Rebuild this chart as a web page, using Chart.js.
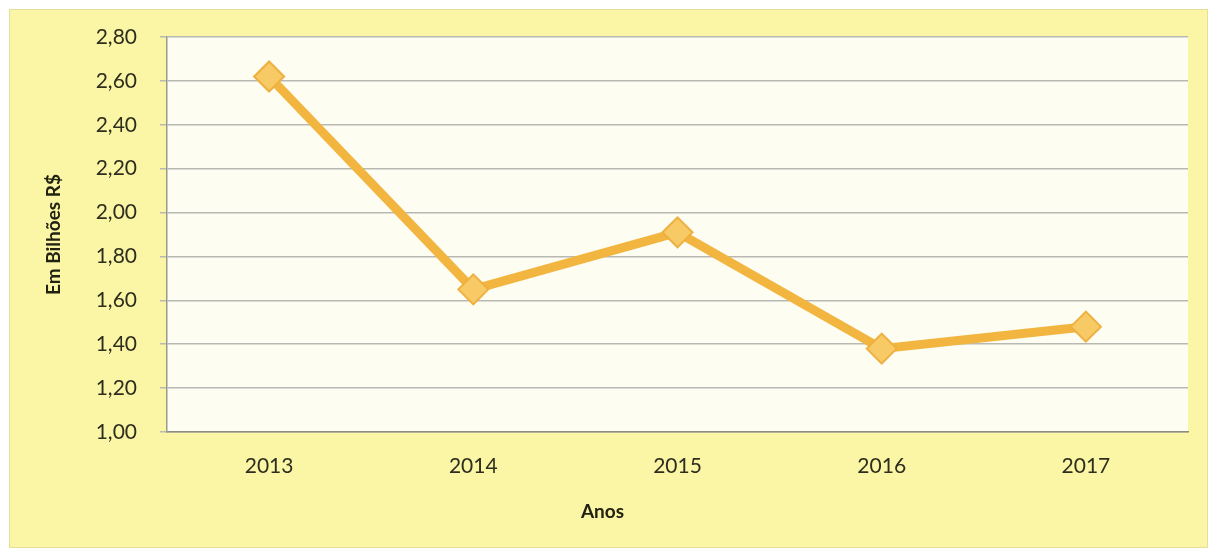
<!DOCTYPE html>
<html>
<head>
<meta charset="utf-8">
<script src="https://cdn.jsdelivr.net/npm/chart.js@4"></script>
<style>
html, body { margin: 0; padding: 0; background: #ffffff; }
#wrap { position: absolute; left: 0; top: 0; width: 1217px; height: 553px; }
</style>
</head>
<body>
<div id="wrap"><canvas id="chart" width="1217" height="553"></canvas></div>
<script>
var anos = ['2013', '2014', '2015', '2016', '2017'];
var valores = [2.62, 1.65, 1.91, 1.38, 1.48];
var y_ticks = [1.00, 1.20, 1.40, 1.60, 1.80, 2.00, 2.20, 2.40, 2.60, 2.80];

var y_title = 'Em Bilhões R$';
var x_title = 'Anos';

var fonte = 'Lato, "Open Sans", sans-serif';

// fundo amarelo do quadro e fundo claro da area do grafico
var fundo_plugin = {
    id: 'fundo',
    beforeDraw: function(chart) {
        var ctx = chart.ctx;
        var a = chart.chartArea;
        ctx.save();
        ctx.fillStyle = '#fbf5a6';
        ctx.fillRect(9, 9, 1199, 539);
        ctx.strokeStyle = '#e6df9a';
        ctx.lineWidth = 1;
        ctx.strokeRect(9.5, 9.5, 1198, 538);
        ctx.fillStyle = '#fefdf2';
        ctx.fillRect(a.left, a.top, a.right - a.left, a.bottom - a.top);
        ctx.restore();
    }
};

// titulo do eixo x, um pouco deslocado para a esquerda como no original
var titulo_x_plugin = {
    id: 'titulo_x',
    afterDraw: function(chart) {
        var ctx = chart.ctx;
        var a = chart.chartArea;
        ctx.save();
        ctx.font = 'bold 19px ' + fonte;
        ctx.fillStyle = '#222211';
        ctx.textAlign = 'center';
        ctx.textBaseline = 'middle';
        ctx.fillText(x_title, (a.left + a.right) / 2 - 75, a.bottom + 80);
        ctx.restore();
    }
};

window.addEventListener('load', function()
{
    new Chart(document.getElementById('chart'), {
        type: 'line',
        data: {
            labels: anos,
            datasets: [{
                data: valores,
                borderColor: '#f1b540',
                borderWidth: 9,
                pointStyle: 'rectRot',
                pointRadius: 15,
                pointBackgroundColor: '#f7ca66',
                pointBorderColor: '#eeb040',
                pointBorderWidth: 2,
                tension: 0
            }]
        },
        options: {
            responsive: false,
            animation: false,
            layout: { padding: { left: 20, right: 29, top: 37, bottom: 10 } },
            plugins: {
                legend: { display: false },
                tooltip: { enabled: false }
            },
            scales: {
                x: {
                    offset: true,
                    grid: { display: false, drawTicks: false },
                    border: { color: '#8c8c80', width: 1.5 },
                    ticks: {
                        color: '#2e2e1e',
                        font: { family: fonte, size: 21 },
                        padding: 22
                    },
                    afterFit: function(scale) { scale.height = 111; }
                },
                y: {
                    min: 1,
                    max: 2.8,
                    afterBuildTicks: function(scale) {
                        scale.ticks = y_ticks.map(function(v) { return { value: v }; });
                    },
                    grid: { color: '#b9b9b4', lineWidth: 1.5, tickLength: 7 },
                    border: { color: '#9a9a90', width: 1.5 },
                    ticks: {
                        color: '#2e2e1e',
                        font: { family: fonte, size: 21 },
                        padding: 23,
                        callback: function(v) { return v.toFixed(2).replace('.', ','); }
                    },
                    title: {
                        display: true,
                        text: y_title,
                        color: '#222211',
                        font: { family: fonte, size: 19, weight: 'bold' },
                        padding: { top: 22, bottom: 0 }
                    },
                    afterFit: function(scale) { scale.width = 147; }
                }
            }
        },
        plugins: [fundo_plugin, titulo_x_plugin]
    });
});
</script>
</body>
</html>
